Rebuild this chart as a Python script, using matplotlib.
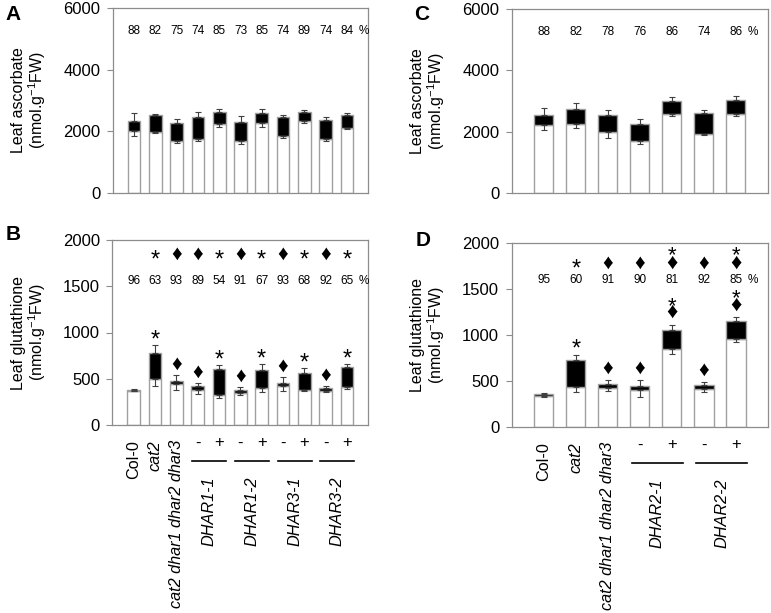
import numpy as np
import matplotlib.pyplot as plt
import matplotlib.transforms as mtransforms

plt.rcParams['font.family'] = ['Liberation Sans', 'DejaVu Sans']
plt.rcParams['mathtext.fontset'] = 'custom'
plt.rcParams['mathtext.rm'] = 'Liberation Sans'
plt.rcParams['mathtext.it'] = 'Liberation Sans:italic'

# ---- data (nmol g-1 FW): total, reduced, errors of total (up) and reduced (down)
asc_a_total = [2324, 2519, 2259, 2474, 2637, 2301, 2604, 2454, 2627, 2357, 2529]
asc_a_reduced = [2008, 1976, 1673, 1738, 2226, 1673, 2259, 1836, 2324, 1738, 2116]
asc_a_tot_err = [260, 33, 130, 143, 78, 186, 120, 65, 55, 97, 75]
asc_a_red_err = [162, 33, 65, 65, 78, 88, 130, 56, 44, 65, 52]
asc_a_pct = ['88', '82', '75', '74', '85', '73', '85', '74', '89', '74', '84']

glu_b_total = [378, 778, 471, 425, 605, 378, 595, 454, 565, 400, 631]
glu_b_reduced = [367, 494, 439, 382, 319, 342, 404, 422, 375, 371, 407]
glu_b_tot_err = [8, 84, 73, 29, 44, 29, 61, 65, 55, 18, 25]
glu_b_red_err = [3, 76, 61, 44, 22, 23, 51, 58, 11, 14, 21]
glu_b_pct = ['96', '63', '93', '89', '54', '91', '67', '93', '68', '92', '65']
glu_b_top_marks = ['', '*', '♦', '♦', '*', '♦', '*', '♦', '*', '♦', '*']
glu_b_bar_marks = ['', '*', '♦', '♦', '*', '♦', '*', '♦', '*', '♦', '*']

asc_c_total = [2532, 2749, 2532, 2258, 3000, 2608, 3023]
asc_c_reduced = [2205, 2258, 1986, 1692, 2575, 1911, 2585]
asc_c_tot_err = [230, 176, 164, 144, 122, 88, 141]
asc_c_red_err = [163, 151, 186, 99, 75, 23, 85]
asc_c_pct = ['88', '82', '78', '76', '86', '74', '86']

glu_d_total = [360, 722, 465, 444, 1050, 454, 1147]
glu_d_reduced = [339, 436, 422, 397, 847, 415, 960]
glu_d_tot_err = [11, 54, 40, 61, 61, 36, 43]
glu_d_red_err = [11, 54, 32, 69, 60, 33, 37]
glu_d_pct = ['95', '60', '91', '90', '81', '92', '85']
glu_d_top_marks = ['', '*', '♦', '♦', '♦*', '♦', '♦*']
glu_d_bar_marks = ['', '*', '♦', '♦', '♦*', '♦', '♦*']

base_lines = ['Col-0', 'cat2', 'cat2 dhar1 dhar2 dhar3']
lines_left = ['DHAR1-1', 'DHAR1-2', 'DHAR3-1', 'DHAR3-2']
lines_right = ['DHAR2-1', 'DHAR2-2']
signs = ['-', '+']

W, H = 771, 613
fig = plt.figure(figsize=(W / 100, H / 100), dpi=100)
GRAY = '#8c8c8c'
# glyph size (pt) and height of ink centre above baseline (fraction of em)
GLYPH = {'*': (17, 0.57), '♦': (15, 0.30)}
DESC = 0.212  # descent of the font, fraction of em


def px_axes(l, t, r, b):
    return fig.add_axes([l / W, 1 - b / H, (r - l) / W, (b - t) / H])


def shift(ax, tr, dx=0, dy=0):
    return mtransforms.offset_copy(tr, fig=fig, x=dx, y=-dy, units='dots')


def panel(ax, total, reduced, tot_err, red_err, pct, ymax, yticks, pct_y, ylabel):
    x = np.arange(len(total))
    total = np.array(total)
    reduced = np.array(reduced)
    ax.bar(x, reduced, 0.6, color='white', edgecolor='#a0a0a0', linewidth=1, zorder=2)
    ax.bar(x, total - reduced, 0.6, bottom=reduced, color='black',
           edgecolor='#a0a0a0', linewidth=1, zorder=2)
    zero = np.zeros(len(x))
    ax.errorbar(x, total, yerr=[zero, tot_err], fmt='none', ecolor='#404040',
                elinewidth=0.8, capsize=2.5, capthick=0.8, zorder=3)
    ax.errorbar(x, reduced, yerr=[red_err, zero], fmt='none', ecolor='#404040',
                elinewidth=0.8, capsize=2.5, capthick=0.8, zorder=3)
    ax.set_xlim(-1, len(x))
    ax.set_ylim(0, ymax)
    ax.set_yticks(yticks)
    ax.set_xticks([])
    ax.tick_params(axis='y', length=4, width=0.8, color=GRAY, labelsize=12, pad=5)
    for s in ax.spines.values():
        s.set_color(GRAY)
        s.set_linewidth(0.9)
    for i, p in enumerate(pct):
        ax.text(x[i], pct_y, p, ha='center', va='center', fontsize=8.5)
    ax.annotate('%', (x[-1], pct_y), xytext=(17, 0), textcoords='offset pixels',
                ha='center', va='center', fontsize=8.5)
    ax.text(0, 0.5, ylabel, transform=shift(ax, ax.transAxes, dx=-83),
            rotation=90, ha='center', va='center', fontsize=11.5,
            multialignment='center', linespacing=1.0)
    return x, total


def marks(ax, xs, base, symbols, first, step=12):
    # a stack of symbols (bottom to top) is written as one text
    for i, m in enumerate(symbols):
        if not m:
            continue
        if len(m) == 1:
            fs, c = GLYPH[m]
            px = fs * 100 / 72
            ax.annotate(m, (xs[i], base[i]), xytext=(0, first - (c + DESC) * px),
                        textcoords='offset pixels', ha='center', va='bottom', fontsize=fs)
        else:
            fs = 16
            px = fs * 100 / 72
            c0 = GLYPH[m[0]][1]
            c1 = GLYPH[m[1]][1]
            gap = step - (c1 - c0) * px  # distance between baselines
            ls = max(gap - DESC * px, 0.2) / (0.73 * px)
            ax.annotate(m[1] + '\n' + m[0], (xs[i], base[i]),
                        xytext=(0, first - (c0 + DESC) * px),
                        textcoords='offset pixels', ha='center', va='bottom',
                        fontsize=fs, linespacing=ls)


def xlabels(ax, n_pairs, groups):
    tr = ax.get_xaxis_transform()
    for i, lab in enumerate(base_lines):
        style = 'normal' if i == 0 else 'italic'
        ax.text(i, 0, lab, transform=shift(ax, tr, dy=15), rotation=90,
                ha='center', va='top', fontsize=11.7, style=style)
    for g in range(n_pairs):
        x0 = 3 + 2 * g
        for j, s in enumerate(signs):
            ax.text(x0 + j, 0, s, transform=shift(ax, tr, dy=18), ha='center',
                    va='center', fontsize=12)
        ax.plot([x0 - 0.25, x0 + 1.35], [0, 0], color='black', lw=1.2,
                transform=shift(ax, tr, dy=36), clip_on=False)
        ax.text(x0 + 0.55, 0, groups[g], transform=shift(ax, tr, dy=52),
                rotation=90, ha='center', va='top', fontsize=11.7, style='italic')


lab_asc = 'Leaf ascorbate\n(nmol.g$^{-1}$FW)'
lab_glu = 'Leaf glutathione\n(nmol.g$^{-1}$FW)'

ax_a = px_axes(112.7, 8.3, 368.3, 192.7)
panel(ax_a, asc_a_total, asc_a_reduced, asc_a_tot_err, asc_a_red_err, asc_a_pct,
      6000, [0, 2000, 4000, 6000], 5250, lab_asc)

ax_c = px_axes(511.7, 9.3, 767.7, 192.7)
panel(ax_c, asc_c_total, asc_c_reduced, asc_c_tot_err, asc_c_red_err, asc_c_pct,
      6000, [0, 2000, 4000, 6000], 5250, lab_asc)

ax_b = px_axes(112.3, 240, 368.3, 425)
xb, tb = panel(ax_b, glu_b_total, glu_b_reduced, glu_b_tot_err, glu_b_red_err, glu_b_pct,
               2000, [0, 500, 1000, 1500, 2000], 1557, lab_glu)
marks(ax_b, xb, tb + np.array(glu_b_tot_err), glu_b_bar_marks, 12)
marks(ax_b, xb, np.full(len(xb), 1860), glu_b_top_marks, 0)
xlabels(ax_b, 4, lines_left)

ax_d = px_axes(511.7, 242.7, 768, 427)
xd, td = panel(ax_d, glu_d_total, glu_d_reduced, glu_d_tot_err, glu_d_red_err, glu_d_pct,
               2000, [0, 500, 1000, 1500, 2000], 1590, lab_glu)
marks(ax_d, xd, td + np.array(glu_d_tot_err), glu_d_bar_marks, 13, step=12)
marks(ax_d, xd, np.full(len(xd), 1785), glu_d_top_marks, 0, step=13)
xlabels(ax_d, 2, lines_right)

for letter, (px, py) in zip('ABCD', [(13, 14), (13, 235), (422, 14), (423, 240)]):
    fig.text(px / W, 1 - py / H, letter, ha='center', va='center',
             fontsize=15, fontweight='bold')

fig.savefig('out.png', dpi=100)
